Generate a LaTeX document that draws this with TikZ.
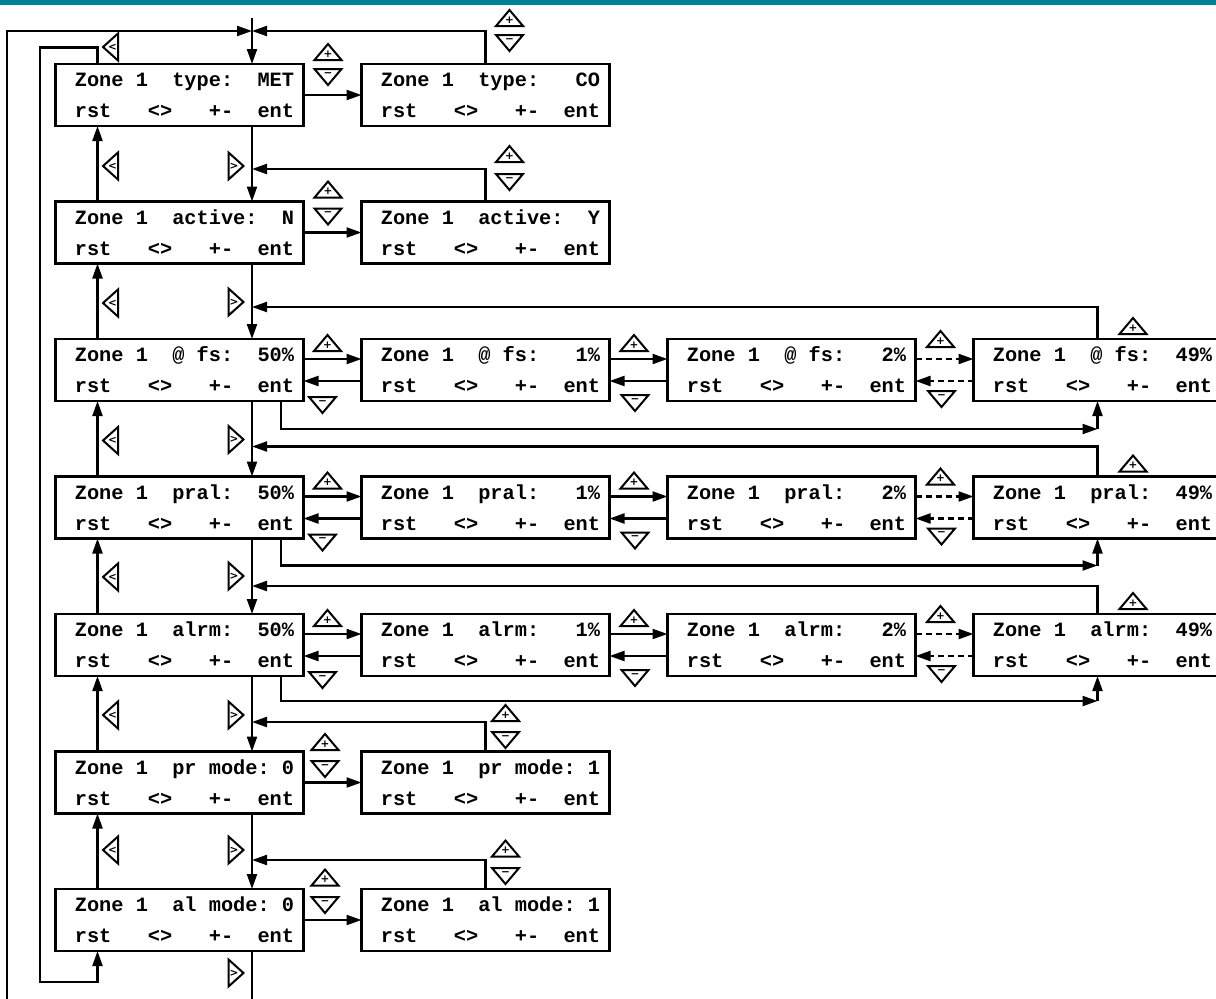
\documentclass[tikz,border=0pt]{standalone}
\usepackage{fontspec}
\usepackage{tikz}
\usetikzlibrary{arrows.meta, positioning, calc}
\usepackage{xcolor}
\definecolor{barteal}{RGB}{0,130,150}
\newfontfamily\lcdfont{Liberation Mono}
\newfontfamily\keyfont{DejaVu Sans}
\newcommand{\lcd}[1]{\hspace*{10pt}#1\\\hspace*{10pt}rst~~~<>~~~+-~~ent}

\begin{document}
\begin{tikzpicture}[x=1pt, y=1pt,
  lcdbox/.style={rectangle, draw=black, line width=2.6pt, outer sep=0pt,
              inner sep=0pt, minimum width=248pt, minimum height=62pt,
              align=left, font=\lcdfont\bfseries\fontsize{20.3}{31}\selectfont},
  arr/.style={-{Triangle[length=15pt, width=10pt]}, line width=2.2pt},
  darr/.style={arr, dash pattern=on 6pt off 4pt},
  keybox/.style={line width=2pt},
  keytext/.style={font=\keyfont\bfseries\fontsize{10.5}{10.5}\selectfont, inner sep=0pt},
  kplus/.pic={\draw[keybox] (-13.5,-8) -- (13.5,-8) -- (0,8) -- cycle;
              \node[keytext] (-t) at (0,-2) {+};},
  kminus/.pic={\draw[keybox] (-13.5,8) -- (13.5,8) -- (0,-8) -- cycle;
               \node[keytext] (-t) at (0,2.5) {−};},
  kleft/.pic={\draw[keybox] (-7.5,0) -- (7.5,13.5) -- (7.5,-13.5) -- cycle;
              \node[keytext] (-t) at (2,0) {<};},
  kright/.pic={\draw[keybox] (7.5,0) -- (-7.5,13.5) -- (-7.5,-13.5) -- cycle;
               \node[keytext] (-t) at (-2,0) {>};},
  node distance=75.5pt and 58pt
]
\useasboundingbox (0,0) rectangle (1216,-999);
\clip (0,0) rectangle (1216,-999);
\fill[barteal] (0,0) rectangle (1216,-4.5);

% Main column
\node[lcdbox] (typ0) at (179.5,-95) {\lcd{Zone~1~~type:~~MET}};
\node[lcdbox, below=of typ0] (act0) {\lcd{Zone~1~~active:~~N}};
\node[lcdbox, below=of act0] (fs0) {\lcd{Zone~1~~@~fs:~~50\%}};
\node[lcdbox, below=of fs0] (pral0) {\lcd{Zone~1~~pral:~~50\%}};
\node[lcdbox, below=of pral0] (alrm0) {\lcd{Zone~1~~alrm:~~50\%}};
\node[lcdbox, below=of alrm0] (pr0) {\lcd{Zone~1~~pr~mode:~0}};
\node[lcdbox, below=of pr0] (al0) {\lcd{Zone~1~~al~mode:~0}};

% Edited values
\node[lcdbox, right=of typ0] (typ1) {\lcd{Zone~1~~type:~~~CO}};
\node[lcdbox, right=of act0] (act1) {\lcd{Zone~1~~active:~~Y}};
\node[lcdbox, right=of fs0] (fs1) {\lcd{Zone~1~~@~fs:~~~1\%}};
\node[lcdbox, right=of fs1] (fs2) {\lcd{Zone~1~~@~fs:~~~2\%}};
\node[lcdbox, right=of fs2] (fs3) {\lcd{Zone~1~~@~fs:~~49\%}};
\node[lcdbox, right=of pral0] (pral1) {\lcd{Zone~1~~pral:~~~1\%}};
\node[lcdbox, right=of pral1] (pral2) {\lcd{Zone~1~~pral:~~~2\%}};
\node[lcdbox, right=of pral2] (pral3) {\lcd{Zone~1~~pral:~~49\%}};
\node[lcdbox, right=of alrm0] (alrm1) {\lcd{Zone~1~~alrm:~~~1\%}};
\node[lcdbox, right=of alrm1] (alrm2) {\lcd{Zone~1~~alrm:~~~2\%}};
\node[lcdbox, right=of alrm2] (alrm3) {\lcd{Zone~1~~alrm:~~49\%}};
\node[lcdbox, right=of pr0] (pr1) {\lcd{Zone~1~~pr~mode:~1}};
\node[lcdbox, right=of al0] (al1) {\lcd{Zone~1~~al~mode:~1}};

% Joins on the main column
\coordinate (entry) at ([xshift=72.5pt, yshift=46pt]typ0.north);
\coordinate (j1) at ([xshift=72.5pt, yshift=33pt]typ0.north);
\coordinate (j2) at ([xshift=72.5pt, yshift=32.5pt]act0.north);
\coordinate (j3) at ([xshift=72.5pt, yshift=32pt]fs0.north);
\coordinate (j4) at ([xshift=72.5pt, yshift=30pt]pral0.north);
\coordinate (j5) at ([xshift=72.5pt, yshift=28pt]alrm0.north);
\coordinate (j6) at ([xshift=72.5pt, yshift=29.5pt]pr0.north);
\coordinate (j7) at ([xshift=72.5pt, yshift=29pt]al0.north);
\coordinate (outer) at ([xshift=-48.5pt, yshift=-60pt]al0.south west);
\coordinate (inner) at ([xshift=-15.5pt, yshift=-31pt]al0.south west);

% Next (down) and reset (up)
\draw[arr] (entry) -- ([xshift=72.5pt]typ0.north);
\draw[arr] ([xshift=72.5pt]typ0.south) -- ([xshift=72.5pt]act0.north);
\draw[arr] ([xshift=72.5pt]act0.south) -- ([xshift=72.5pt]fs0.north);
\draw[arr] ([xshift=72.5pt]fs0.south) -- ([xshift=72.5pt]pral0.north);
\draw[arr] ([xshift=72.5pt]pral0.south) -- ([xshift=72.5pt]alrm0.north);
\draw[arr] ([xshift=72.5pt]alrm0.south) -- ([xshift=72.5pt]pr0.north);
\draw[arr] ([xshift=72.5pt]pr0.south) -- ([xshift=72.5pt]al0.north);
\draw[arr] ([xshift=72.5pt]al0.south) |- (outer) |- (j1);
\draw[arr] ([xshift=42pt]act0.north west) -- ([xshift=42pt]typ0.south west);
\draw[arr] ([xshift=42pt]fs0.north west) -- ([xshift=42pt]act0.south west);
\draw[arr] ([xshift=42pt]pral0.north west) -- ([xshift=42pt]fs0.south west);
\draw[arr] ([xshift=42pt]alrm0.north west) -- ([xshift=42pt]pral0.south west);
\draw[arr] ([xshift=42pt]pr0.north west) -- ([xshift=42pt]alrm0.south west);
\draw[arr] ([xshift=42pt]al0.north west) -- ([xshift=42pt]pr0.south west);
\draw[arr] ([xshift=42pt]typ0.north west) -- ++(0,16.5pt) -| (inner)
    -| ([xshift=42pt]al0.south west);

% Two-state rows
\draw[arr] (typ0.east) -- (typ1.west);
\draw[arr] (typ1.north) |- (j1);
\draw[arr] (act0.east) -- (act1.west);
\draw[arr] (act1.north) |- (j2);
\draw[arr] (pr0.east) -- (pr1.west);
\draw[arr] (pr1.north) |- (j6);
\draw[arr] (al0.east) -- (al1.west);
\draw[arr] (al1.north) |- (j7);

% Percentage rows
\draw[arr] ([yshift=11pt]fs0.east) -- ([yshift=11pt]fs1.west);
\draw[arr] ([yshift=-11pt]fs1.west) -- ([yshift=-11pt]fs0.east);
\draw[arr] ([yshift=11pt]fs1.east) -- ([yshift=11pt]fs2.west);
\draw[arr] ([yshift=-11pt]fs2.west) -- ([yshift=-11pt]fs1.east);
\draw[darr] ([yshift=11pt]fs2.east) -- ([yshift=11pt]fs3.west);
\draw[darr] ([yshift=-11pt]fs3.west) -- ([yshift=-11pt]fs2.east);
\draw[arr] (fs3.north) |- (j3);
\coordinate (k3) at ([yshift=-28pt]fs3.south);
\draw[arr] ([xshift=101.5pt]fs0.south) |- (k3);
\draw[arr] (k3) -- (fs3.south);

\draw[arr] ([yshift=11pt]pral0.east) -- ([yshift=11pt]pral1.west);
\draw[arr] ([yshift=-11pt]pral1.west) -- ([yshift=-11pt]pral0.east);
\draw[arr] ([yshift=11pt]pral1.east) -- ([yshift=11pt]pral2.west);
\draw[arr] ([yshift=-11pt]pral2.west) -- ([yshift=-11pt]pral1.east);
\draw[darr] ([yshift=11pt]pral2.east) -- ([yshift=11pt]pral3.west);
\draw[darr] ([yshift=-11pt]pral3.west) -- ([yshift=-11pt]pral2.east);
\draw[arr] (pral3.north) |- (j4);
\coordinate (k4) at ([yshift=-27pt]pral3.south);
\draw[arr] ([xshift=101.5pt]pral0.south) |- (k4);
\draw[arr] (k4) -- (pral3.south);

\draw[arr] ([yshift=11pt]alrm0.east) -- ([yshift=11pt]alrm1.west);
\draw[arr] ([yshift=-11pt]alrm1.west) -- ([yshift=-11pt]alrm0.east);
\draw[arr] ([yshift=11pt]alrm1.east) -- ([yshift=11pt]alrm2.west);
\draw[arr] ([yshift=-11pt]alrm2.west) -- ([yshift=-11pt]alrm1.east);
\draw[darr] ([yshift=11pt]alrm2.east) -- ([yshift=11pt]alrm3.west);
\draw[darr] ([yshift=-11pt]alrm3.west) -- ([yshift=-11pt]alrm2.east);
\draw[arr] (alrm3.north) |- (j5);
\coordinate (k5) at ([yshift=-25pt]alrm3.south);
\draw[arr] ([xshift=101.5pt]alrm0.south) |- (k5);
\draw[arr] (k5) -- (alrm3.south);

% Keys: left / right
\pic (l1) at ([shift={(55,17)}]typ0.north west) {kleft};
\pic (l2) at ([shift={(55,35.5)}]act0.north west) {kleft};
\pic (r2) at ([shift={(56.5,35.5)}]act0.north) {kright};
\pic (l3) at ([shift={(55,36)}]fs0.north west) {kleft};
\pic (r3) at ([shift={(56.5,37)}]fs0.north) {kright};
\pic (l4) at ([shift={(55,36)}]pral0.north west) {kleft};
\pic (r4) at ([shift={(56.5,37)}]pral0.north) {kright};
\pic (l5) at ([shift={(55,37)}]alrm0.north west) {kleft};
\pic (r5) at ([shift={(56.5,38)}]alrm0.north) {kright};
\pic (l6) at ([shift={(55,36.5)}]pr0.north west) {kleft};
\pic (r6) at ([shift={(56.5,36.5)}]pr0.north) {kright};
\pic (l7) at ([shift={(55,39)}]al0.north west) {kleft};
\pic (r7) at ([shift={(56.5,39)}]al0.north) {kright};
\pic (r8) at ([shift={(56.5,-22)}]al0.south) {kright};

% Keys: plus / minus
\pic (pa1) at ([shift={(24.5,12)}]typ0.north east) {kplus};
\pic (ma1) at ([shift={(24.5,-13)}]typ0.north east) {kminus};
\pic (pb1) at ([shift={(24,46)}]typ1.north) {kplus};
\pic (mb1) at ([shift={(24,21)}]typ1.north) {kminus};
\pic (pa2) at ([shift={(24.5,12)}]act0.north east) {kplus};
\pic (ma2) at ([shift={(24.5,-15)}]act0.north east) {kminus};
\pic (pb2) at ([shift={(24,47.5)}]act1.north) {kplus};
\pic (mb2) at ([shift={(24,19.5)}]act1.north) {kminus};

\pic (pa3) at ([shift={(24,-4)}]fs0.north east) {kplus};
\pic (ma3) at ([shift={(19,-4)}]fs0.south east) {kminus};
\pic (pb3) at ([shift={(24.5,-4)}]fs1.north east) {kplus};
\pic (mb3) at ([shift={(25.5,-2)}]fs1.south east) {kminus};
\pic (pc3) at ([shift={(25,0)}]fs2.north east) {kplus};
\pic (mc3) at ([shift={(26,2)}]fs2.south east) {kminus};
\pic (pd3) at ([shift={(35.5,13)}]fs3.north) {kplus};

\pic (pa4) at ([shift={(24,-4)}]pral0.north east) {kplus};
\pic (ma4) at ([shift={(19,-4)}]pral0.south east) {kminus};
\pic (pb4) at ([shift={(24.5,-4)}]pral1.north east) {kplus};
\pic (mb4) at ([shift={(25.5,-2)}]pral1.south east) {kminus};
\pic (pc4) at ([shift={(25,0)}]pral2.north east) {kplus};
\pic (mc4) at ([shift={(26,2)}]pral2.south east) {kminus};
\pic (pd4) at ([shift={(35.5,13)}]pral3.north) {kplus};

\pic (pa5) at ([shift={(24,-4)}]alrm0.north east) {kplus};
\pic (ma5) at ([shift={(19,-4)}]alrm0.south east) {kminus};
\pic (pb5) at ([shift={(24.5,-4)}]alrm1.north east) {kplus};
\pic (mb5) at ([shift={(25.5,-2)}]alrm1.south east) {kminus};
\pic (pc5) at ([shift={(25,0)}]alrm2.north east) {kplus};
\pic (mc5) at ([shift={(26,2)}]alrm2.south east) {kminus};
\pic (pd5) at ([shift={(35.5,13)}]alrm3.north) {kplus};

\pic (pa6) at ([shift={(21.5,9.5)}]pr0.north east) {kplus};
\pic (ma6) at ([shift={(21.5,-17.5)}]pr0.north east) {kminus};
\pic (pb6) at ([shift={(20,38.5)}]pr1.north) {kplus};
\pic (mb6) at ([shift={(20,11.5)}]pr1.north) {kminus};
\pic (pa7) at ([shift={(21.5,11.5)}]al0.north east) {kplus};
\pic (ma7) at ([shift={(21.5,-16)}]al0.north east) {kminus};
\pic (pb7) at ([shift={(20,40.5)}]al1.north) {kplus};
\pic (mb7) at ([shift={(20,13)}]al1.north) {kminus};
\end{tikzpicture}
\end{document}
